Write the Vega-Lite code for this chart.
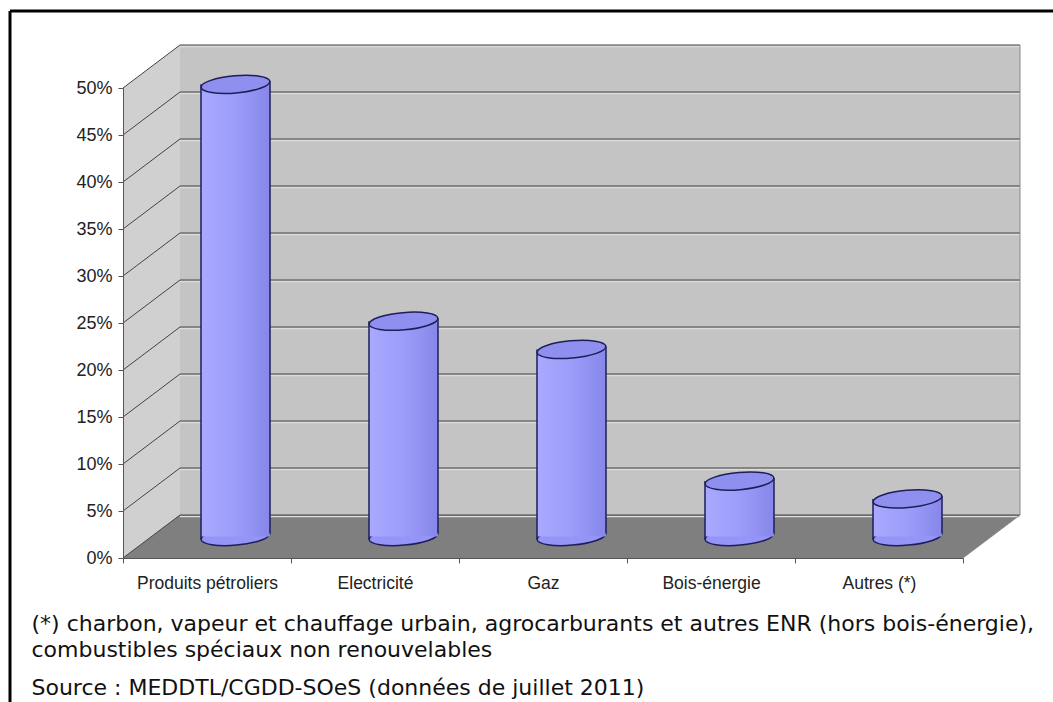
{
  "$schema": "https://vega.github.io/schema/vega-lite/v6.json",
  "width": 1043,
  "height": 691,
  "autosize": {"type": "none"},
  "padding": {"left": 10, "top": 11, "right": 0, "bottom": 0},
  "background": "white",
  "datasets": {
    "bars": [
      {"cat": "Produits pétroliers", "share": 0.481},
      {"cat": "Electricité", "share": 0.229},
      {"cat": "Gaz", "share": 0.199},
      {"cat": "Bois-énergie", "share": 0.059},
      {"cat": "Autres (*)", "share": 0.04}
    ],
    "grid": [
      {"v": 0}, {"v": 0.05}, {"v": 0.1}, {"v": 0.15}, {"v": 0.2}, {"v": 0.25},
      {"v": 0.3}, {"v": 0.35}, {"v": 0.4}, {"v": 0.45}, {"v": 0.5}
    ],
    "one": [{}]
  },
  "layer": [
    {
      "data": {"name": "one"},
      "mark": {"type": "point", "shape": "M0,0L0,-470L57,-513L57,-43Z", "size": 4, "filled": true, "fill": "#d0d0d0", "opacity": 1, "strokeWidth": 0},
      "encoding": {
        "x": {"datum": "Produits pétroliers", "type": "nominal", "bandPosition": 0},
        "y": {"datum": 0, "type": "quantitative"}
      }
    },
    {
      "data": {"name": "one"},
      "mark": {"type": "point", "shape": "M0,0L840,0L897,-43L57,-43Z", "size": 4, "filled": true, "fill": "#7f7f7f", "opacity": 1, "strokeWidth": 0},
      "encoding": {
        "x": {"datum": "Produits pétroliers", "type": "nominal", "bandPosition": 0},
        "y": {"datum": 0, "type": "quantitative"}
      }
    },
    {
      "data": {"name": "one"},
      "mark": {"type": "rect", "fill": "#c4c4c4", "xOffset": 57, "x2Offset": 57, "yOffset": -43, "y2Offset": -43},
      "encoding": {
        "x": {"datum": "Produits pétroliers", "type": "nominal", "bandPosition": 0},
        "x2": {"datum": "Autres (*)", "bandPosition": 1},
        "y": {"datum": 0, "type": "quantitative"},
        "y2": {"datum": 0.5}
      }
    },
    {
      "data": {"name": "grid"},
      "mark": {"type": "rule", "color": "#dcdcdc", "strokeWidth": 1.5, "xOffset": 57, "x2Offset": 57, "yOffset": -41.5, "y2Offset": -41.5},
      "encoding": {
        "x": {"datum": "Produits pétroliers", "type": "nominal", "bandPosition": 0},
        "x2": {"datum": "Autres (*)", "bandPosition": 1},
        "y": {"field": "v", "type": "quantitative"}
      }
    },
    {
      "data": {"name": "grid"},
      "mark": {"type": "rule", "color": "#444444", "strokeWidth": 1, "xOffset": 57, "x2Offset": 57, "yOffset": -43, "y2Offset": -43},
      "encoding": {
        "x": {"datum": "Produits pétroliers", "type": "nominal", "bandPosition": 0},
        "x2": {"datum": "Autres (*)", "bandPosition": 1},
        "y": {"field": "v", "type": "quantitative"}
      }
    },
    {
      "data": {"name": "grid"},
      "mark": {"type": "rule", "color": "#444444", "strokeWidth": 1, "x2Offset": 57, "y2Offset": -43},
      "encoding": {
        "x": {"datum": "Produits pétroliers", "type": "nominal", "bandPosition": 0},
        "x2": {"datum": "Produits pétroliers", "bandPosition": 0},
        "y": {"field": "v", "type": "quantitative"},
        "y2": {"field": "v"}
      }
    },
    {
      "data": {"name": "one"},
      "mark": {"type": "rule", "color": "#8a8a8a", "strokeWidth": 1, "xOffset": 57, "yOffset": -43, "y2Offset": -43},
      "encoding": {
        "x": {"datum": "Autres (*)", "type": "nominal", "bandPosition": 1},
        "y": {"datum": 0, "type": "quantitative"},
        "y2": {"datum": 0.5}
      }
    },
    {
      "data": {"name": "one"},
      "mark": {"type": "rule", "color": "#8a8a8a", "strokeWidth": 1, "x2Offset": 57, "y2Offset": -43},
      "encoding": {
        "x": {"datum": "Autres (*)", "type": "nominal", "bandPosition": 1},
        "x2": {"datum": "Autres (*)", "bandPosition": 1},
        "y": {"datum": 0, "type": "quantitative"},
        "y2": {"datum": 0}
      }
    },
    {
      "data": {"name": "bars"},
      "mark": {"type": "point", "shape": "M-1,0A1,0.25,0,1,1,1,0A1,0.25,0,1,1,-1,0Z", "size": 4761, "angle": -5, "filled": true, "fill": "#9595f8", "stroke": "#1e1e5a", "strokeWidth": 1.5, "opacity": 1, "xOffset": 28.5, "yOffset": -21.5},
      "encoding": {
        "x": {"field": "cat", "type": "nominal"},
        "y": {"datum": 0, "type": "quantitative"}
      }
    },
    {
      "data": {"name": "bars"},
      "mark": {"type": "bar", "width": 69, "xOffset": 28.5, "yOffset": -21.5, "y2Offset": -21.5, "strokeWidth": 0,
        "fill": {"gradient": "linear", "x1": 0, "x2": 1, "y1": 0, "y2": 0, "stops": [{"offset": 0, "color": "#a9a9ff"}, {"offset": 0.5, "color": "#9c9cfb"}, {"offset": 1, "color": "#8787ea"}]}},
      "encoding": {
        "x": {
          "field": "cat", "type": "nominal",
          "scale": {"domain": ["Produits pétroliers", "Electricité", "Gaz", "Bois-énergie", "Autres (*)"], "range": [113, 953], "paddingInner": 0, "paddingOuter": 0},
          "axis": {
            "orient": "bottom", "offset": -144, "zindex": 1,
            "labelAngle": 0, "labelAlign": "center", "labelBaseline": "top", "tickBand": "extent", "tickSize": 5, "tickColor": "#555555", "domainColor": "#555555",
            "labelPadding": 11, "labelFont": "Liberation Sans", "labelFontSize": 17.5, "labelColor": "#222222",
            "title": ["(*) charbon, vapeur et chauffage urbain, agrocarburants et autres ENR (hors bois-énergie),", "combustibles spéciaux non renouvelables"],
            "titleX": 21, "titleY": 72, "titleAlign": "left", "titleAnchor": "start", "titleBaseline": "alphabetic",
            "titleLineHeight": 26, "titleFont": "DejaVu Sans", "titleFontSize": 22, "titleFontWeight": "normal", "titleColor": "#111111"
          }
        },
        "y": {
          "field": "share", "type": "quantitative",
          "scale": {"domain": [0, 0.5], "range": [547, 77], "nice": false},
          "axis": {
            "orient": "left", "offset": -113, "zindex": 1, "grid": false,
            "values": [0, 0.05, 0.1, 0.15, 0.2, 0.25, 0.3, 0.35, 0.4, 0.45, 0.5],
            "format": ".0%", "tickSize": 5, "tickColor": "#555555", "domainColor": "#555555",
            "labelPadding": 6, "labelFont": "Liberation Sans", "labelFontSize": 18, "labelColor": "#222222",
            "title": "Source : MEDDTL/CGDD-SOeS (données de juillet 2011)",
            "titleAngle": 0, "titleX": -92, "titleY": 683, "titleAlign": "left", "titleAnchor": "start", "titleBaseline": "alphabetic",
            "titleFont": "DejaVu Sans", "titleFontSize": 22, "titleFontWeight": "normal", "titleColor": "#111111"
          }
        },
        "y2": {"datum": 0}
      }
    },
    {
      "data": {"name": "bars"},
      "mark": {"type": "rule", "color": "#1e1e5a", "strokeWidth": 1.5, "xOffset": -6, "yOffset": -21.5, "y2Offset": -18.5},
      "encoding": {
        "x": {"field": "cat", "type": "nominal"},
        "y": {"field": "share", "type": "quantitative"},
        "y2": {"datum": 0}
      }
    },
    {
      "data": {"name": "bars"},
      "mark": {"type": "rule", "color": "#1e1e5a", "strokeWidth": 1.5, "xOffset": 63, "yOffset": -24.5, "y2Offset": -24.5},
      "encoding": {
        "x": {"field": "cat", "type": "nominal"},
        "y": {"field": "share", "type": "quantitative"},
        "y2": {"datum": 0}
      }
    },
    {
      "data": {"name": "bars"},
      "mark": {"type": "point", "shape": "M-1,0A1,0.25,0,1,1,1,0A1,0.25,0,1,1,-1,0Z", "size": 4761, "angle": -5, "filled": true, "fill": "#8f8ff0", "stroke": "#1e1e5a", "strokeWidth": 1.5, "opacity": 1, "xOffset": 28.5, "yOffset": -21.5},
      "encoding": {
        "x": {"field": "cat", "type": "nominal"},
        "y": {"field": "share", "type": "quantitative"}
      }
    }
  ],
  "config": {
    "view": {"stroke": "#000000", "strokeWidth": 3, "strokeDash": [1043, 1734, 691, 0], "fill": "white"}
  }
}
